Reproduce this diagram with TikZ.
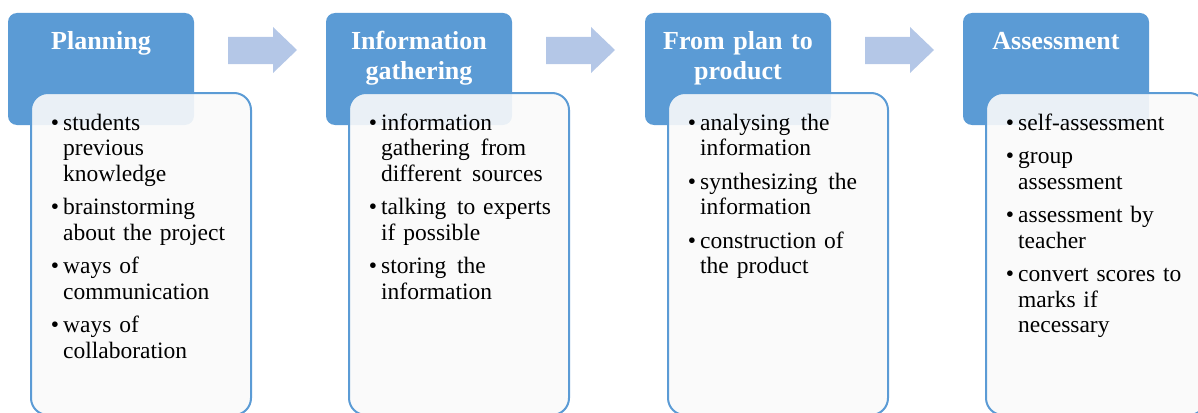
\documentclass[tikz,border=0pt]{standalone}
\usepackage{fontspec}
\setmainfont{Liberation Serif}
\usepackage{tikz}
\usetikzlibrary{calc, positioning}

\definecolor{headblue}{HTML}{5B9BD5}
\definecolor{arrowblue}{HTML}{B4C7E7}

% bullet point inside a note box
\newcommand{\stageitem}[1]{\leavevmode\llap{\textbullet\hspace{4pt}}#1\par\vspace{8pt}}
\newcommand{\wsp}{\hspace{0.45em}}

\begin{document}
\begin{tikzpicture}[x=1pt, y=-1pt,
    headbox/.style={anchor=north west, minimum width=186pt, minimum height=112pt,
        inner sep=0pt, outer sep=0pt, fill=headblue, rounded corners=9pt},
    headtext/.style={anchor=base, text width=180pt, align=center, inner sep=0pt,
        text=white, font=\bfseries\fontsize{26}{29}\selectfont},
    notebox/.style={anchor=north west, minimum width=220pt, minimum height=322pt,
        inner sep=0pt, draw=headblue, line width=2pt, fill=black!2,
        fill opacity=0.9, rounded corners=17pt},
    notetext/.style={anchor=base west, text width=185pt, align=left, inner sep=0pt,
        font=\fontsize{23.5}{25.5}\selectfont}]

    \useasboundingbox (0,0) rectangle (1198,412);
    \clip (0,0) rectangle (1198,412);

    \node[headbox] (h1) at (8,13) {};
    \node[headbox] (h2) at (326,13) {};
    \node[headbox] (h3) at (645,13) {};
    \node[headbox] (h4) at (963,13) {};

    \node[headtext] (t1) at ($(h1.north)+(0,37)$) {Planning};
    \node[headtext] (t2) at ($(h2.north)+(0,37)$) {Information\\gathering};
    \node[headtext] (t3) at ($(h3.north)+(0,37)$) {From plan to\\product};
    \node[headtext] (t4) at ($(h4.north)+(0,37)$) {Assessment};

    % block arrows between the stages
    \foreach \a in {h1, h2, h3}
        \fill[arrowblue] ($(\a.north east)+(34,24)$) -- +(45,0) -- +(45,-10)
            -- +(69,13) -- +(45,36) -- +(45,27) -- +(0,27) -- cycle;

    \node[notebox] (b1) at ($(h1.north west)+(22,79)$) {};
    \node[notebox] (b2) at ($(h2.north west)+(22,79)$) {};
    \node[notebox] (b3) at ($(h3.north west)+(22,79)$) {};
    \node[notebox] (b4) at ($(h4.north west)+(22,79)$) {};

    \node[notetext] (n1) at ($(b1.north west)+(33,38)$) {%
        \stageitem{students\\previous\\knowledge}%
        \stageitem{brainstorming\\about the project}%
        \stageitem{ways of\\communication}%
        \stageitem{ways of\\collaboration}};
    \node[notetext] (n2) at ($(b2.north west)+(33,38)$) {%
        \stageitem{information\\gathering\wsp from\\different\wsp sources}%
        \stageitem{talking\wsp to experts\\if possible}%
        \stageitem{storing\wsp the\\information}};
    \node[notetext] (n3) at ($(b3.north west)+(33,38)$) {%
        \stageitem{analysing\wsp the\\information}%
        \stageitem{synthesizing\wsp the\\information}%
        \stageitem{construction of\\the product}};
    \node[notetext] (n4) at ($(b4.north west)+(33,38)$) {%
        \stageitem{self-assessment}%
        \stageitem{group\\assessment}%
        \stageitem{assessment by\\teacher}%
        \stageitem{convert scores to\\marks if\\necessary}};

\end{tikzpicture}
\end{document}
